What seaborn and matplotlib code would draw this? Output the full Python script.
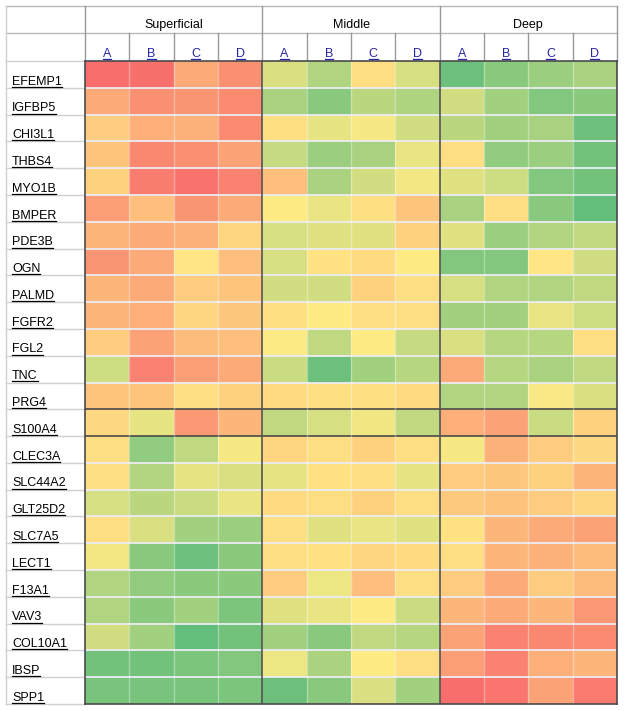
import matplotlib.pyplot as plt
import numpy as np
import seaborn as sns
from matplotlib.colors import LinearSegmentedColormap
from matplotlib.lines import Line2D

# genes (rows) and column layout
genes = ['EFEMP1', 'IGFBP5', 'CHI3L1', 'THBS4', 'MYO1B', 'BMPER', 'PDE3B', 'OGN',
         'PALMD', 'FGFR2', 'FGL2', 'TNC', 'PRG4', 'S100A4', 'CLEC3A', 'SLC44A2',
         'GLT25D2', 'SLC7A5', 'LECT1', 'F13A1', 'VAV3', 'COL10A1', 'IBSP', 'SPP1']
zonas = ['Superficial', 'Middle', 'Deep']
letras = ['A', 'B', 'C', 'D']

# color scale value: 0 = red, 0.5 = yellow, 1 = green
superficial = [
    [0.02, 0.03, 0.25, 0.15], [0.25, 0.15, 0.17, 0.13], [0.38, 0.27, 0.28, 0.13],
    [0.35, 0.12, 0.15, 0.22], [0.40, 0.08, 0.04, 0.10], [0.20, 0.33, 0.17, 0.25],
    [0.30, 0.25, 0.28, 0.42], [0.17, 0.25, 0.48, 0.33], [0.30, 0.25, 0.38, 0.35],
    [0.30, 0.27, 0.42, 0.36], [0.38, 0.22, 0.32, 0.33], [0.66, 0.10, 0.20, 0.25],
    [0.35, 0.35, 0.45, 0.40], [0.43, 0.58, 0.18, 0.30], [0.45, 0.85, 0.70, 0.53],
    [0.45, 0.75, 0.58, 0.62], [0.63, 0.72, 0.67, 0.57], [0.45, 0.62, 0.80, 0.82],
    [0.54, 0.88, 0.97, 0.87], [0.75, 0.85, 0.87, 0.87], [0.75, 0.87, 0.80, 0.92],
    [0.65, 0.80, 1.00, 0.95], [0.95, 0.95, 0.92, 0.90], [0.93, 0.93, 0.93, 0.92]]
middle = [
    [0.62, 0.75, 0.45, 0.63], [0.78, 0.88, 0.72, 0.76], [0.46, 0.58, 0.53, 0.65],
    [0.68, 0.82, 0.78, 0.57], [0.33, 0.77, 0.65, 0.54], [0.50, 0.57, 0.46, 0.35],
    [0.63, 0.60, 0.60, 0.40], [0.63, 0.47, 0.44, 0.50], [0.65, 0.65, 0.40, 0.45],
    [0.46, 0.50, 0.45, 0.45], [0.51, 0.70, 0.50, 0.68], [0.67, 0.97, 0.80, 0.73],
    [0.44, 0.46, 0.46, 0.44], [0.70, 0.63, 0.55, 0.70], [0.42, 0.45, 0.40, 0.45],
    [0.58, 0.47, 0.45, 0.58], [0.44, 0.45, 0.40, 0.45], [0.45, 0.60, 0.57, 0.60],
    [0.45, 0.47, 0.42, 0.44], [0.38, 0.56, 0.33, 0.45], [0.60, 0.57, 0.50, 0.67],
    [0.80, 0.88, 0.70, 0.73], [0.56, 0.77, 0.50, 0.45], [0.97, 0.88, 0.62, 0.80]]
deep = [
    [0.97, 0.88, 0.82, 0.78], [0.65, 0.80, 0.90, 0.87], [0.72, 0.80, 0.78, 0.97],
    [0.45, 0.85, 0.82, 0.95], [0.60, 0.66, 0.90, 0.95], [0.78, 0.45, 0.88, 1.00],
    [0.60, 0.82, 0.75, 0.70], [0.90, 0.90, 0.48, 0.65], [0.63, 0.75, 0.75, 0.70],
    [0.80, 0.80, 0.57, 0.66], [0.62, 0.73, 0.73, 0.45], [0.25, 0.73, 0.77, 0.70],
    [0.75, 0.75, 0.52, 0.62], [0.27, 0.22, 0.67, 0.40], [0.53, 0.28, 0.38, 0.43],
    [0.38, 0.36, 0.40, 0.30], [0.37, 0.34, 0.38, 0.42], [0.47, 0.30, 0.25, 0.22],
    [0.45, 0.30, 0.28, 0.32], [0.38, 0.25, 0.38, 0.32], [0.30, 0.25, 0.30, 0.18],
    [0.22, 0.10, 0.12, 0.13], [0.20, 0.10, 0.27, 0.30], [0.02, 0.05, 0.22, 0.07]]

matriz = np.hstack([np.array(superficial), np.array(middle), np.array(deep)])
ncol = matriz.shape[1]
nfil = matriz.shape[0]

W, H = 624, 711
fig = plt.figure(figsize=(W / 100, H / 100), dpi=100)
fig.patch.set_facecolor('white')

# escala tipo excel rojo-amarillo-verde
cmap = LinearSegmentedColormap.from_list('ryg', ['#F8696B', '#FFEB84', '#63BE7B'])

ax = fig.add_axes([85 / W, 1 - 704 / H, 532 / W, 643 / H])
sns.heatmap(matriz, ax=ax, cmap=cmap, vmin=0, vmax=1, cbar=False,
            xticklabels=False, yticklabels=False)
ax.set_xlabel('')
ax.set_ylabel('')

# lineas de la tabla dentro del heatmap
for i in range(1, nfil):
    if i in (13, 14):
        ax.axhline(i, color='#4a4a4a', lw=1.2)
    else:
        ax.axhline(i, color='#ececf4', lw=1.3)
for j in range(1, ncol):
    if j % 4 == 0:
        ax.axvline(j, color='#555555', lw=1.2)
    else:
        ax.axvline(j, color='white', lw=1, alpha=0.35)
for s in ax.spines.values():
    s.set_visible(True)
    s.set_color('#4a4a4a')
    s.set_linewidth(1.2)

# capa para el encabezado y columna de genes (coordenadas en pixeles)
capa = fig.add_axes([0, 0, 1, 1], zorder=-1)
capa.set_xlim(0, W)
capa.set_ylim(H, 0)
capa.axis('off')
gris = '#b8b8b8'
capa.plot([6, 617], [6, 6], color=gris, lw=1)
capa.plot([6, 617], [33, 33], color=gris, lw=1)
capa.plot([6, 6], [6, 704], color='#d0d0d0', lw=1)
capa.plot([85, 85], [6, 61], color='#999999', lw=1)
xs = np.linspace(85, 617, ncol + 1)
for j, x in enumerate(xs[1:], start=1):
    if j % 4 == 0:
        capa.plot([x, x], [6, 61], color='#999999', lw=1)
    else:
        capa.plot([x, x], [33, 61], color='#999999', lw=1)
ys = np.linspace(61, 704, nfil + 1)
for y in ys:
    capa.plot([6, 85], [y, y], color='#d0d0d0', lw=1)

fuente = 'Liberation Sans'
subrayar = []

# nombres de genes
trans_y = ax.get_yaxis_transform()
for i, g in enumerate(genes):
    t = ax.text(-73 / 532, i + 0.88, g, transform=trans_y, ha='left', va='baseline',
                fontsize=9, family=fuente, color='black')
    subrayar.append((t, 'black'))

# letras A-D y zonas
trans_x = ax.get_xaxis_transform()
for j in range(ncol):
    t = ax.text(j + 0.5, 1 + 4 / 643, letras[j % 4], transform=trans_x, ha='center',
                va='baseline', fontsize=9, family=fuente, color='#2626a0')
    subrayar.append((t, '#2626a0'))
for k, z in enumerate(zonas):
    ax.text(4 * k + 2, 1 + 33 / 643, z, transform=trans_x, ha='center', va='baseline',
            fontsize=9, family=fuente, color='black')

# subrayado debajo de cada texto
fig.canvas.draw()
rend = fig.canvas.get_renderer()
for t, col in subrayar:
    bb = t.get_window_extent(rend)
    y = bb.y0 + 0.8
    fig.add_artist(Line2D([bb.x0 / W, bb.x1 / W], [y / H, y / H],
                          transform=fig.transFigure, color=col, lw=0.9))

fig.savefig('out.png', dpi=100)
